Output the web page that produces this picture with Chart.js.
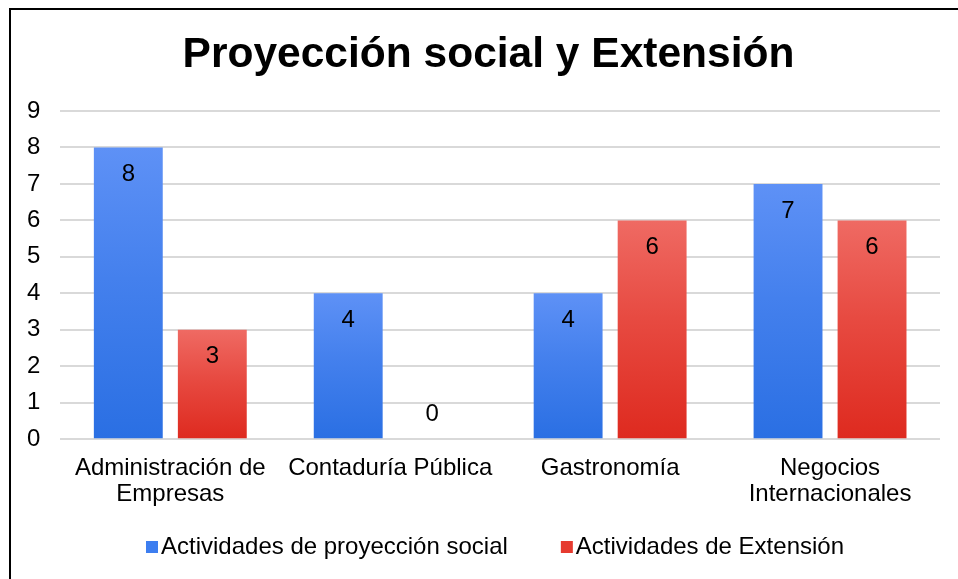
<!DOCTYPE html>
<html>
<head>
<meta charset="utf-8">
<script src="https://cdn.jsdelivr.net/npm/chart.js@4"></script>
<style>
  html, body { margin: 0; padding: 0; background: #fff; overflow: hidden; }
  #wrap { position: relative; width: 958px; height: 579px; }
  #frame { position: absolute; left: 9px; top: 8px; width: 960px; height: 600px; border-left: 2px solid #000; border-top: 2px solid #000; box-sizing: border-box; pointer-events: none; }
  canvas { position: absolute; left: 0; top: 0; }
</style>
</head>
<body>
<div id="wrap">
  <canvas id="chart" width="958" height="579"></canvas>
  <div id="frame"></div>
</div>
<script>
// chart data
const categories = [["Administración de", "Empresas"], "Contaduría Pública", "Gastronomía", ["Negocios", "Internacionales"]];
const proyeccionValues = [8, 4, 4, 7];
const extensionValues = [3, 0, 6, 6];
const yTicks = [0, 1, 2, 3, 4, 5, 6, 7, 8, 9];

const FONT = "'Liberation Sans', Arial, sans-serif";
const legendSwatch = ["#3d7ef0", "#e63a2f"];

// vertical gradient spanning each bar
function barGradient(top, bottom) {
  return (ctx) => {
    const chart = ctx.chart;
    const y = chart.scales && chart.scales.y;
    if (!chart.chartArea || !y || ctx.type !== "data") return bottom;
    const yTop = y.getPixelForValue(ctx.parsed.y);
    const yBase = y.getPixelForValue(0);
    if (yBase - yTop < 1) return bottom;
    const g = chart.ctx.createLinearGradient(0, yTop, 0, yBase);
    g.addColorStop(0, top);
    g.addColorStop(0.45, mid(top, bottom));
    g.addColorStop(1, bottom);
    return g;
  };
}
function mid(a, b) {
  const pa = [1, 3, 5].map((i) => parseInt(a.substr(i, 2), 16));
  const pb = [1, 3, 5].map((i) => parseInt(b.substr(i, 2), 16));
  return "rgb(" + pa.map((v, i) => Math.round((v + pb[i]) / 2)).join(",") + ")";
}

// value labels just inside the top of each bar
const valueLabels = {
  id: "valueLabels",
  afterDatasetsDraw(chart) {
    const ctx = chart.ctx;
    ctx.save();
    ctx.font = "24px " + FONT;
    ctx.fillStyle = "#000";
    ctx.textAlign = "center";
    ctx.textBaseline = "middle";
    chart.data.datasets.forEach((ds, i) => {
      chart.getDatasetMeta(i).data.forEach((bar, j) => {
        const v = ds.data[j];
        const y = v === 0 ? bar.y - 25 : bar.y + 27;
        ctx.fillText(String(v), bar.x, y);
      });
    });
    ctx.restore();
  },
};

// bottom legend, Excel style: small square, tight gap to text
const bottomLegend = {
  id: "bottomLegend",
  afterDraw(chart) {
    const ctx = chart.ctx;
    ctx.save();
    ctx.font = "24px " + FONT;
    ctx.textBaseline = "middle";
    const items = chart.data.datasets.map((ds, i) => ({ text: ds.label, color: legendSwatch[i] }));
    const box = 12, gap = 3, spacing = 53;
    const widths = items.map((it) => box + gap + ctx.measureText(it.text).width);
    const total = widths.reduce((a, b) => a + b, 0) + spacing * (items.length - 1);
    let x = 495 - total / 2;
    const y = 547;
    items.forEach((it, i) => {
      ctx.fillStyle = it.color;
      ctx.fillRect(x, y - box / 2, box, box);
      ctx.fillStyle = "#000";
      ctx.fillText(it.text, x + box + gap, y);
      x += widths[i] + spacing;
    });
    ctx.restore();
  },
};

// centre the title on the framed area rather than the padded canvas
const titleShift = {
  id: "titleShift",
  afterLayout(chart) {
    if (chart.titleBlock) {
      chart.titleBlock.left += 15;
      chart.titleBlock.right += 15;
    }
  },
};

new Chart(document.getElementById("chart"), {
  type: "bar",
  data: {
    labels: categories,
    datasets: [
      {
        label: "Actividades de proyección social",
        data: proyeccionValues,
        backgroundColor: barGradient("#5e91f6", "#2a6fe3"),
      },
      {
        label: "Actividades de Extensión",
        data: extensionValues,
        backgroundColor: barGradient("#ef6a63", "#de2a1f"),
      },
    ],
  },
  options: {
    responsive: false,
    animation: false,
    categoryPercentage: 0.764,
    barPercentage: 0.82,
    layout: { padding: { left: 7, right: 18, top: 0, bottom: 63 } },
    plugins: {
      title: {
        display: true,
        text: "Proyección social y Extensión",
        color: "#000",
        font: { family: FONT, size: 42.5, weight: "bold" },
        padding: { top: 30, bottom: 30 },
      },
      legend: { display: false },
      tooltip: { enabled: false },
    },
    scales: {
      x: {
        grid: { display: false },
        border: { display: false },
        ticks: { color: "#000", font: { family: FONT, size: 24, lineHeight: 1.1 }, padding: 8, maxRotation: 0, autoSkip: false },
      },
      y: {
        min: 0,
        max: 9,
        afterBuildTicks: (axis) => { axis.ticks = yTicks.map((v) => ({ value: v })); },
        grid: { color: "#d9d9d9", lineWidth: 2, drawTicks: false },
        border: { display: false },
        ticks: { color: "#000", font: { family: FONT, size: 24 }, padding: 20 },
      },
    },
  },
  plugins: [valueLabels, bottomLegend, titleShift],
});
</script>
</body>
</html>
